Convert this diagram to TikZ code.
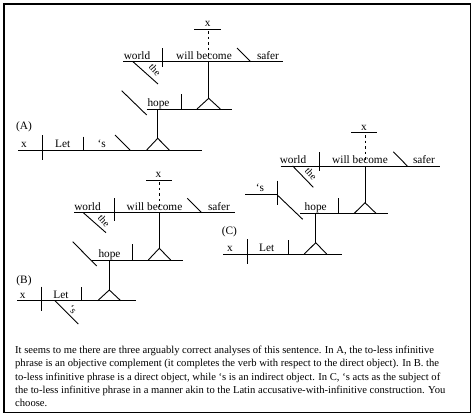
\documentclass[tikz,border=0pt]{standalone}
\usepackage{fontspec}
\setmainfont{Liberation Serif}
\begin{document}
\begin{tikzpicture}[x=1pt,y=-1pt,
  ln/.style={line width=0.9pt,black},
  dsh/.style={line width=0.9pt,dash pattern=on 2.5pt off 3pt},
  wd/.style={anchor=base,inner sep=0pt,font=\fontsize{11.3}{13}\selectfont},
  lab/.style={anchor=center,inner sep=0pt,font=\fontsize{11.3}{13}\selectfont},
  rot/.style={inner sep=0pt,rotate=-48,font=\fontsize{10}{12}\selectfont},
  para/.style={anchor=base west,inner sep=0pt,font=\fontsize{10.6}{12}\selectfont}]
\useasboundingbox (0,0) rectangle (474,418);
\draw[line width=1.4pt] (4,4) rectangle (470.5,412.5);

% ---------------- Diagram A ----------------
\node[lab] (labA) at (24,127) {(A)};
\draw[ln] (194,29) -- (221,29);
\node[wd] (xA2) at (207.7,26.5) {x};
\draw[dsh] (208.7,31) -- (208.7,58);
\draw[ln] (123,61.7) -- (283,61.7);
\draw[ln] (162.7,48) -- (162.7,67);
\draw[ln] (237,48) -- (250.7,61.7);
\draw[ln] (133,61.7) -- (158,84);
\node[wd] (worldA) at (137,59.2) {world};
\node[wd] (wbA) at (204,59.2) {will become};
\node[wd] (saferA) at (268,59.2) {safer};
\node[rot] (theA) at (155,70) {the};
\draw[ln] (208.7,61.7) -- (208.7,98.3);
\draw[ln] (197,109) -- (208.7,98.3) -- (220.3,109);
\draw[ln] (146.7,109) -- (231.7,109);
\draw[ln] (121.7,90.7) -- (146.7,115);
\draw[ln] (181.7,94) -- (181.7,109);
\node[wd] (hopeA) at (158.5,106.5) {hope};
\draw[ln] (157.7,109) -- (157.7,138.3);
\draw[ln] (146.7,150) -- (157.7,138.3) -- (169.3,150);
\draw[ln] (18.3,150) -- (201.7,150);
\draw[ln] (42.3,135) -- (42.3,160);
\draw[ln] (83.3,136.7) -- (83.3,150);
\draw[ln] (115,135) -- (130,150);
\node[wd] (xA) at (24,147.5) {x};
\node[wd] (letA) at (62.7,147.5) {Let};
\node[wd] (sA) at (101.7,147.5) {‘s};

% ---------------- Diagram B ----------------
\node[lab] (labB) at (24,280.7) {(B)};
\draw[ln] (146,180) -- (171.7,180);
\node[wd] (xB2) at (158.5,177.5) {x};
\draw[dsh] (159.3,182) -- (159.3,209);
\draw[ln] (74,212.7) -- (235,212.7);
\draw[ln] (114,198.3) -- (114,220.7);
\draw[ln] (187.3,198.3) -- (201.7,212.7);
\draw[ln] (83.3,212.7) -- (106,232.7);
\node[wd] (worldB) at (87.5,210.2) {world};
\node[wd] (wbB) at (154.5,210.2) {will become};
\node[wd] (saferB) at (219,210.2) {safer};
\node[rot] (theB) at (104,220.5) {the};
\draw[ln] (159.3,212.7) -- (159.3,248.3);
\draw[ln] (148.3,260) -- (159.3,248.3) -- (170.7,260);
\draw[ln] (91.7,260) -- (182.7,260);
\draw[ln] (72.7,241.7) -- (96.7,266);
\draw[ln] (132.7,244) -- (132.7,260);
\node[wd] (hopeB) at (109.5,257.5) {hope};
\draw[ln] (109.3,260) -- (109.3,290);
\draw[ln] (97.7,300.7) -- (109.3,290) -- (120.7,300.7);
\draw[ln] (17.3,300.7) -- (136,300.7);
\draw[ln] (41,286.7) -- (41,310.7);
\draw[ln] (81.7,287.3) -- (81.7,300.7);
\draw[ln] (55,300.7) -- (78.3,324);
\node[wd] (xB) at (22.7,298.2) {x};
\node[wd] (letB) at (61,298.2) {Let};
\node[inner sep=0pt,rotate=-50,font=\fontsize{10}{12}\selectfont] (sB) at (72.5,309.5) {‘s};

% ---------------- Diagram C ----------------
\node[lab] (labC) at (229.3,231.7) {(C)};
\draw[ln] (351,132.7) -- (376.7,132.7);
\node[wd] (xC2) at (364,130.2) {x};
\draw[dsh] (365,135) -- (365,162);
\draw[ln] (280.7,166) -- (440,166);
\draw[ln] (319.3,152.3) -- (319.3,170.7);
\draw[ln] (393.3,151.7) -- (407.3,166);
\draw[ln] (292.7,166) -- (313.3,187.3);
\node[wd] (worldC) at (293,163.5) {world};
\node[wd] (wbC) at (360,163.5) {will become};
\node[wd] (saferC) at (424,163.5) {safer};
\node[rot] (theC) at (311,174) {the};
\draw[ln] (365,166) -- (365,202.7);
\draw[ln] (354.3,213.3) -- (365,202.7) -- (376,213.3);
\draw[ln] (300,213.3) -- (388.3,213.3);
\draw[ln] (277.3,195) -- (302.7,219.3);
\draw[ln] (338.3,198.3) -- (338.3,213.3);
\node[wd] (hopeC) at (315.7,210.8) {hope};
\draw[ln] (245,194) -- (277.3,194);
\draw[ln] (277.3,180.7) -- (277.3,205);
\node[wd] (sC) at (260,191.5) {‘s};
\draw[ln] (315.7,213.3) -- (315.7,242.7);
\draw[ln] (304.3,254) -- (315.7,242.7) -- (326.7,254);
\draw[ln] (223.3,254) -- (341.7,254);
\draw[ln] (247.3,239.3) -- (247.3,264);
\draw[ln] (288.3,240) -- (288.3,254);
\node[wd] (xC) at (230,251.5) {x};
\node[wd] (letC) at (266.7,251.5) {Let};

% ---------------- Paragraph ----------------
\node[para] (p1) at (15,353.5) {It seems to me there are three arguably correct analyses of this sentence. In A, the to-less infinitive};
\node[para] (p2) at (15,366.8) {phrase is an objective complement (it completes the verb with respect to the direct object). In B. the};
\node[para] (p3) at (15,380.2) {to-less infinitive phrase is a direct object, while ‘s is an indirect object. In C, ‘s acts as the subject of};
\node[para] (p4) at (15,393.5) {the to-less infinitive phrase in a manner akin to the Latin accusative-with-infinitive construction. You};
\node[para] (p5) at (15,406.8) {choose.};
\end{tikzpicture}
\end{document}
